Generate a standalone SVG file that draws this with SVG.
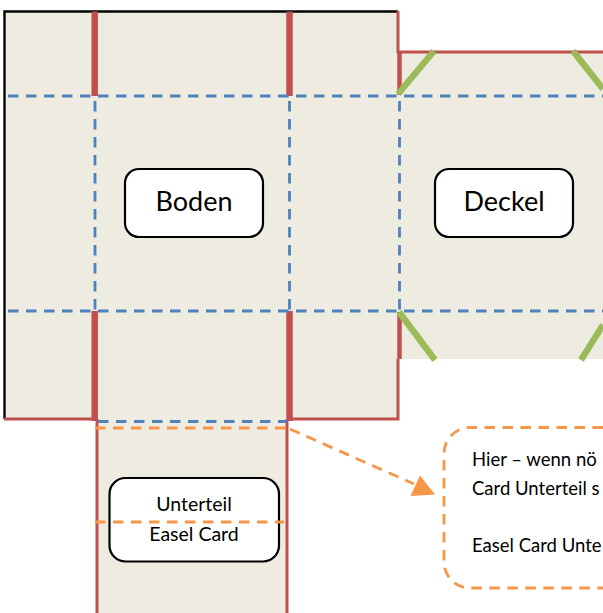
<svg xmlns="http://www.w3.org/2000/svg" width="603" height="613" viewBox="0 0 603 613">
<defs>
<style>
.panel{fill:#eeece1;stroke:none}
.red{fill:none;stroke:#c0504d;stroke-width:3}
.redt{fill:none;stroke:#c0504d;stroke-width:6.500}
.redm{fill:none;stroke:#c0504d;stroke-width:4.500}
.green{fill:none;stroke:#9bbb59;stroke-width:6.500}
.blue{fill:none;stroke:#4f81bd;stroke-width:2.800;stroke-dasharray:10.500 7.500}
.orange{fill:none;stroke:#f79646;stroke-width:2.800;stroke-dasharray:10.500 7.500}
.box{fill:#fff;stroke:#000;stroke-width:2.200}
text{font-family:"Lato","Open Sans","Liberation Sans",sans-serif;fill:#000}
.big{font-size:27px;text-anchor:middle}
.mid{font-size:19.500px;text-anchor:middle}
.note{font-size:18.500px}
</style>
</defs>
<g id="panels">
<rect class="panel" x="4.500" y="11.500" width="393.500" height="407.500"/>
<rect class="panel" x="398" y="52" width="205" height="307"/>
<rect class="panel" x="97" y="419" width="190" height="194"/>
</g>
<g id="connectors">
<path d="M4.500 419V11.500H398" fill="none" stroke="#000" stroke-width="2.400"/>
<path class="red" d="M4 419H97M288 419H398V359M398 11V52H603M97 419V613M287 419V613"/>
<path class="redt" d="M94.700 11.500V96M289.500 11.500V96M94.700 311V421M289.500 311V421"/>
<path class="redm" d="M399.500 52V95M399.500 312V359"/>
<path class="green" d="M398 94L434 51M573 51L603 89M399 312L435 360M581 360L603 325"/>
<path class="blue" d="M8 96H603M8 311H603M95 101V311M289.500 101V311M399.500 101V311M98 421.500H287"/>
<path class="orange" d="M95 428H287"/>
<path class="orange" d="M290 429L414 484"/>
<polygon points="420,475.500 410.500,496 435,494.500" fill="#f79646"/>
</g>
<g id="boden"><rect class="box" x="125" y="169" width="138" height="68" rx="14"/><text class="big" x="194" y="211">Boden</text></g>
<g id="deckel"><rect class="box" x="435" y="169" width="138" height="68" rx="14"/><text class="big" x="504" y="211">Deckel</text></g>
<g id="unterteil"><rect class="box" x="109.500" y="478" width="169.500" height="83.500" rx="16"/><text class="mid" x="194" y="511">Unterteil</text><text class="mid" x="194" y="541">Easel Card</text></g>
<g id="fold"><path class="orange" d="M95 522H284"/></g>
<g id="note"><path class="orange" d="M603 427.500H470A26 26 0 0 0 444 453.500V562A26 26 0 0 0 470 588H603"/>
<text class="note" x="472" y="465.500">Hier – wenn nö</text>
<text class="note" x="472" y="495">Card Unterteil s</text>
<text class="note" x="472" y="552">Easel Card Unte</text></g>
</svg>
